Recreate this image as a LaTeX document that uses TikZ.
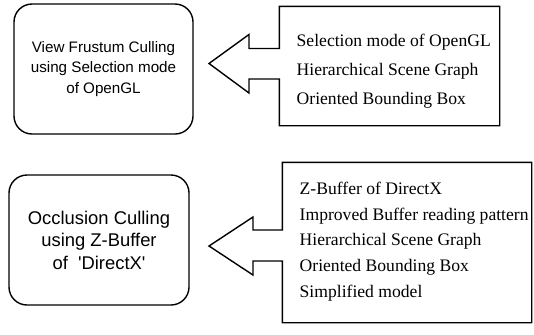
\documentclass[tikz,border=0pt]{standalone}
\usepackage{fontspec}
\setmainfont{Liberation Serif}
\setsansfont{Liberation Sans}

\begin{document}
\begin{tikzpicture}[x=1bp,y=-1bp,line width=1.4bp,
  roundbox/.style={draw,rounded corners=18bp,align=center,inner sep=0pt},
  framebox/.style={inner sep=0pt},
  listtext/.style={anchor=west,align=left,inner sep=0pt,font=\rmfamily\fontsize{17.6bp}{#1}\selectfont}]

\useasboundingbox (0,0) rectangle (534,334);

% upper row
\node[roundbox,minimum width=179bp,minimum height=130bp,font=\sffamily\fontsize{15.2bp}{20.5bp}\selectfont] (vfc) at (103.5,69) {View Frustum Culling\\using Selection mode\\of OpenGL};
\node[framebox,minimum width=219bp,minimum height=118bp] (selframe) at (389.5,66) {};
\node[listtext=29bp] (sellist) at (296,71) {Selection mode of OpenGL\\Hierarchical Scene Graph\\Oriented Bounding Box};
\coordinate (seltip) at (209,63.5);
\draw (seltip) -- ++(40,-29) -- ++(0,14) -| (selframe.north west) -- (selframe.north east)
  -- (selframe.south east) -- (selframe.south west) |- ([shift={(40,15.5)}]seltip) -- ++(0,14) -- cycle;

% lower row
\node[roundbox,minimum width=180bp,minimum height=130bp,font=\sffamily\fontsize{18.4bp}{22.5bp}\selectfont] (occ) at (99,240) {Occlusion Culling\\using Z-Buffer\\of~~\textquotesingle DirectX\textquotesingle};
\node[framebox,minimum width=248bp,minimum height=159bp] (zbframe) at (407,242.5) {};
\node[listtext=25.75bp] (zblist) at (299,241.5) {Z-Buffer of DirectX\\Improved Buffer reading pattern\\Hierarchical Scene Graph\\Oriented Bounding Box\\Simplified model};
\coordinate (zbtip) at (209,246);
\draw (zbtip) -- ++(44,-29) -- ++(0,13) -| (zbframe.north west) -- (zbframe.north east)
  -- (zbframe.south east) -- (zbframe.south west) |- ([shift={(44,15)}]zbtip) -- ++(0,14) -- cycle;
\end{tikzpicture}
\end{document}
